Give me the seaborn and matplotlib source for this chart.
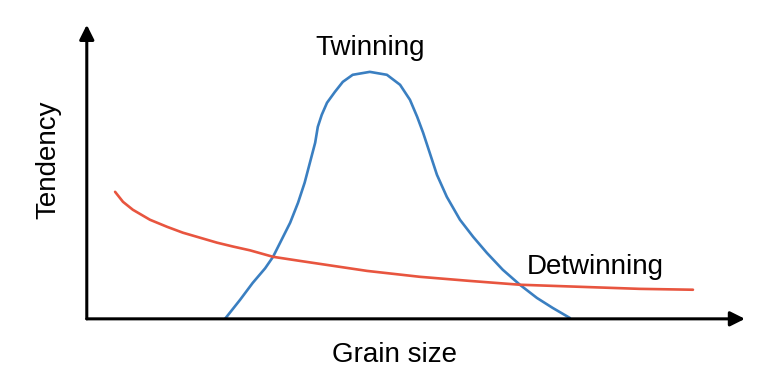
import numpy as np
import pandas as pd
import seaborn as sns
import matplotlib.pyplot as plt

# curves (grain size 0-10, tendency 0-10)
twin_x = [2.10, 2.33, 2.52, 2.71, 2.83, 2.96, 3.09, 3.21, 3.31, 3.39, 3.47,
          3.51, 3.57, 3.65, 3.77, 3.89, 4.04, 4.30, 4.56, 4.76, 4.91, 5.02,
          5.11, 5.21, 5.32, 5.47, 5.67, 5.87, 6.08, 6.32, 6.58, 6.84, 7.08,
          7.34]
twin_y = [0.0, 0.65, 1.22, 1.72, 2.11, 2.69, 3.27, 3.95, 4.63, 5.31, 5.99,
          6.53, 6.94, 7.35, 7.72, 8.06, 8.30, 8.40, 8.30, 7.96, 7.45, 6.87,
          6.33, 5.65, 4.90, 4.15, 3.37, 2.79, 2.24, 1.67, 1.16, 0.71, 0.37,
          0.03]

detwin_x = [0.43, 0.55, 0.70, 0.96, 1.22, 1.46, 1.72, 1.98, 2.22, 2.48, 2.83,
            3.24, 3.69, 4.26, 5.06, 5.82, 6.58, 7.49, 8.40, 9.21]
detwin_y = [4.32, 3.98, 3.71, 3.37, 3.13, 2.93, 2.76, 2.59, 2.46, 2.33, 2.11,
            1.97, 1.82, 1.63, 1.43, 1.29, 1.16, 1.09, 1.02, 0.99]

twin = pd.DataFrame({'size': twin_x, 'tendency': twin_y})
detwin = pd.DataFrame({'size': detwin_x, 'tendency': detwin_y})

sns.set_style('white')
plt.rcParams['font.family'] = ['Liberation Sans', 'DejaVu Sans']
plt.rcParams['text.color'] = 'black'

fig = plt.figure(figsize=(7.68, 3.76), dpi=100)
ax = fig.add_axes([0.113, 0.152, 0.857, 0.782])

sns.lineplot(data=twin, x='size', y='tendency', ax=ax, color='#3a7fc1',
             linewidth=1.9, sort=False, estimator=None)
sns.lineplot(data=detwin, x='size', y='tendency', ax=ax, color='#e8553f',
             linewidth=1.9, sort=False, estimator=None)

ax.set_xlim(0, 10)
ax.set_ylim(0, 10)
ax.set_xticks([])
ax.set_yticks([])
ax.set_xlabel('')
ax.set_ylabel('')
for s in ax.spines.values():
    s.set_visible(False)

# axis arrows
arrow = dict(arrowstyle='-|>', color='black', lw=2.2, mutation_scale=22,
             shrinkA=0, shrinkB=0)
ax.annotate('', xy=(1.0, 0), xytext=(0, 0), xycoords='axes fraction',
            arrowprops=arrow, annotation_clip=False)
ax.annotate('', xy=(0, 1.0), xytext=(0, 0), xycoords='axes fraction',
            arrowprops=arrow, annotation_clip=False)

ax.text(4.3, 9.2, 'Twinning', fontsize=20, ha='center', va='center')
ax.text(7.73, 1.77, 'Detwinning', fontsize=20, ha='center', va='center')
fig.text(395 / 768, 1 - 355 / 376, 'Grain size', fontsize=20,
         ha='center', va='center')
fig.text(48 / 768, 1 - 160 / 376, 'Tendency', fontsize=20, rotation=90,
         ha='center', va='center')

fig.savefig('out.png', dpi=100)
